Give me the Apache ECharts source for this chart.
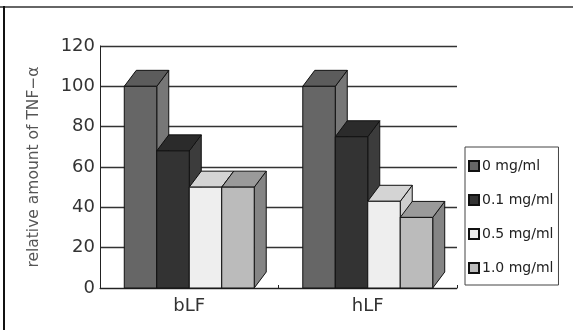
<!DOCTYPE html>
<html><head><meta charset="utf-8">
<script src="https://cdn.jsdelivr.net/npm/echarts@6/dist/echarts.min.js"></script>
<style>html,body{margin:0;padding:0;background:#fff;}#c{width:573px;height:330px;}</style>
</head><body><div id="c"></div>
<script>
var categories = ['bLF', 'hLF'];
var seriesNames = ['0 mg/ml', '0.1 mg/ml', '0.5 mg/ml', '1.0 mg/ml'];
var s0 = [100, 100];
var s1 = [68, 75];
var s2 = [50, 43];
var s3 = [50, 35];
var yTicks = [0, 20, 40, 60, 80, 100, 120];

var seriesValues = [s0, s1, s2, s3];
var faceColors = [
  {front: '#666666', top: '#5c5c5c', side: '#777777'},
  {front: '#333333', top: '#2b2b2b', side: '#3c3c3c'},
  {front: '#eeeeee', top: '#d4d4d4', side: '#cfcfcf'},
  {front: '#bbbbbb', top: '#9a9a9a', side: '#858585'}
];
var DX = 12, DY = -16;

function makeRender(si) {
  return function (params, api) {
    var cat = api.value(0), val = api.value(1);
    var base = api.coord([cat, 0]);
    var top = api.coord([cat, val]);
    var band = api.size([1, 0])[0];
    var bw = band * 0.182;
    var x0 = base[0] - 2 * bw + si * bw;
    var x1 = x0 + bw;
    var y0 = base[1], y1 = top[1];
    var c = faceColors[si];
    var st = {stroke: '#111', lineWidth: 1};
    return {
      type: 'group',
      children: [
        {type: 'polygon', shape: {points: [[x1, y1], [x1 + DX, y1 + DY], [x1 + DX, y0 + DY], [x1, y0]]},
         style: Object.assign({fill: c.side}, st)},
        {type: 'polygon', shape: {points: [[x0, y1], [x0 + DX, y1 + DY], [x1 + DX, y1 + DY], [x1, y1]]},
         style: Object.assign({fill: c.top}, st)},
        {type: 'rect', shape: {x: x0, y: y1, width: bw, height: y0 - y1},
         style: Object.assign({fill: c.front}, st)}
      ]
    };
  };
}

var series = seriesNames.map(function (name, si) {
  return {
    name: name,
    type: 'custom',
    renderItem: makeRender(si),
    itemStyle: {color: faceColors[si].front, borderColor: '#111', borderWidth: 1},
    encode: {x: 0, y: 1},
    data: seriesValues[si].map(function (v, i) { return [i, v]; }),
    z: 3
  };
});

var chart = echarts.init(document.getElementById('c'));
chart.setOption({
  animation: false,
  backgroundColor: '#fff',
  textStyle: {fontFamily: 'DejaVu Sans'},
  graphic: [
    {type: 'line', shape: {x1: 0, y1: 7, x2: 573, y2: 7}, style: {stroke: '#666', lineWidth: 2}},
    {type: 'line', shape: {x1: 4, y1: 6, x2: 4, y2: 330}, style: {stroke: '#111', lineWidth: 2}}
  ],
  grid: {left: 100, right: 116, top: 46, bottom: 42},
  legend: {
    orient: 'vertical', left: 465, top: 147,
    padding: [12, 5, 10, 3],
    itemGap: 20, itemWidth: 10, itemHeight: 10,
    icon: 'rect',
    borderColor: '#444', borderWidth: 1,
    textStyle: {fontFamily: 'DejaVu Sans', fontSize: 14, color: '#222', padding: [0, 0, 0, -2]},
    data: seriesNames
  },
  xAxis: {
    type: 'category', data: categories,
    axisLine: {lineStyle: {color: '#222', width: 1}},
    axisTick: {show: true, inside: true, length: 3, lineStyle: {color: '#222'}},
    axisLabel: {fontFamily: 'DejaVu Sans', fontSize: 18, color: '#333', margin: 9}
  },
  yAxis: {
    type: 'value', min: 0, max: 120, interval: 20,
    name: 'relative amount of TNF\u2212\u03b1', nameLocation: 'middle', nameGap: 58,
    nameTextStyle: {fontFamily: 'DejaVu Sans', fontSize: 15.5, color: '#555'},
    axisLine: {show: true, lineStyle: {color: '#222', width: 1}},
    axisTick: {show: false},
    axisLabel: {fontFamily: 'DejaVu Sans', fontSize: 18, color: '#333', margin: 5,
      formatter: function (v) { return yTicks.indexOf(v) >= 0 ? String(v) : ''; }},
    splitLine: {lineStyle: {color: '#333', width: 1.3}}
  },
  series: series
});
</script></body></html>
